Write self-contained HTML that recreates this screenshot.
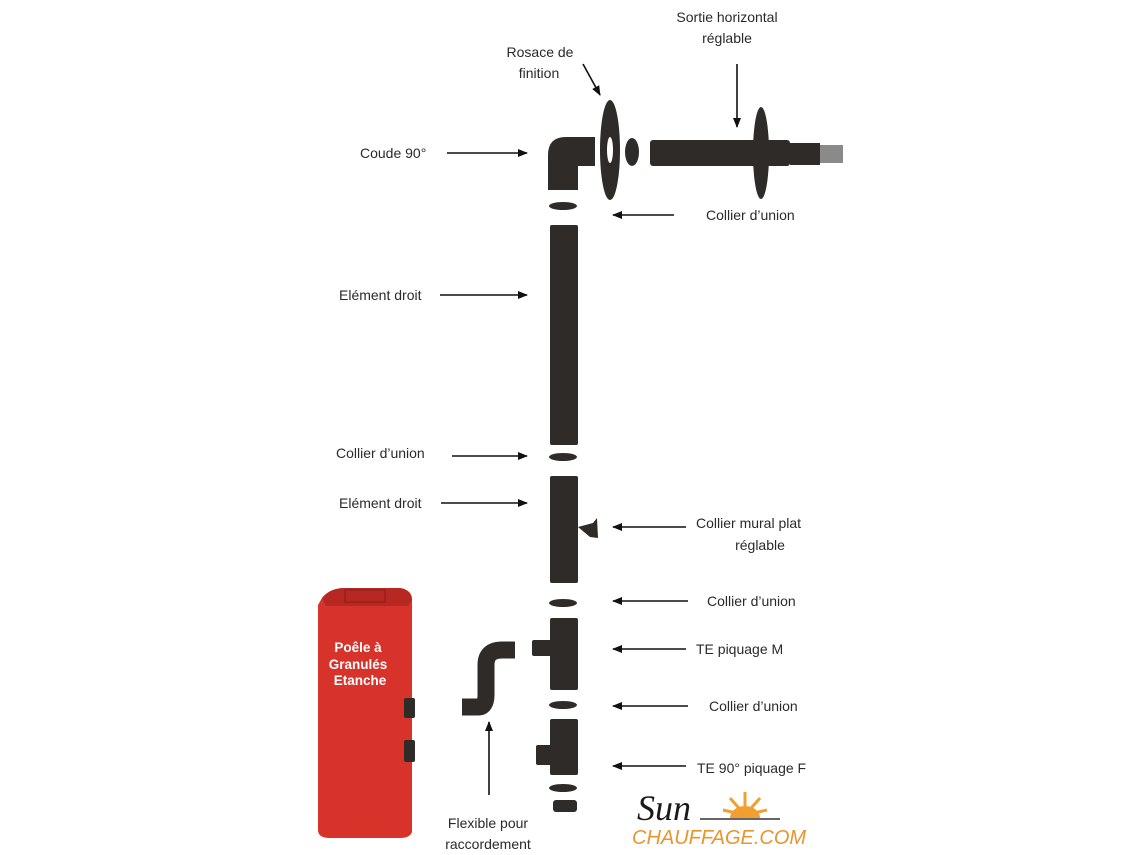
<!DOCTYPE html>
<html><head><meta charset="utf-8"><style>
html,body{margin:0;padding:0;background:#fff}
svg{display:block}
text{font-family:"Liberation Sans",sans-serif;font-size:14px;fill:#2a2a2a}
</style></head><body>
<svg width="1140" height="855" viewBox="0 0 1140 855" xmlns="http://www.w3.org/2000/svg">
<defs>
<marker id="ah" markerWidth="10" markerHeight="8" refX="9" refY="4" orient="auto" markerUnits="userSpaceOnUse">
<path d="M0,0 L10,4 L0,8 Z" fill="#111"/></marker>
</defs>
<!-- stove -->
<path d="M322,598 Q330,588 345,588 L400,588 Q412,590 412,600 L412,832 Q410,838 400,838 L330,838 Q318,838 318,830 L318,605 Z" fill="#d8332b"/>
<path d="M322,598 Q330,588 345,588 L400,588 Q412,590 412,600 L408,606 L326,606 Z" fill="#b82823"/>
<rect x="345" y="590" width="40" height="12" fill="none" stroke="#a0221e" stroke-width="2"/>
<text x="358" y="652" text-anchor="middle" style="fill:#fff;font-weight:bold;font-size:13.5px">Poêle à</text>
<text x="358" y="669" text-anchor="middle" style="fill:#fff;font-weight:bold;font-size:13.5px">Granulés</text>
<text x="360" y="685" text-anchor="middle" style="fill:#fff;font-weight:bold;font-size:13.5px">Etanche</text>
<g fill="#2f2b29">
<!-- elbow -->
<path d="M548,190 L548,155 Q548,137 566,137 L595,137 L595,166 L578,166 L578,190 Z"/>
<!-- rosace -->
<ellipse cx="610" cy="150" rx="10" ry="50"/>
<ellipse cx="610" cy="150" rx="3" ry="13" fill="#fff"/>
<ellipse cx="632" cy="152" rx="7" ry="14"/>
<!-- horizontal tube -->
<rect x="650" y="140" width="140" height="26" rx="3"/>
<ellipse cx="761" cy="153" rx="8" ry="46"/>
<rect x="790" y="143" width="30" height="22"/>
<rect x="820" y="145" width="23" height="18" fill="#8a8a8a"/>
<!-- colliers -->
<ellipse cx="563" cy="206" rx="14" ry="4"/>
<rect x="550" y="225" width="28" height="220" rx="2"/>
<ellipse cx="563" cy="457" rx="14" ry="4"/>
<rect x="550" y="476" width="28" height="107" rx="2"/>
<path d="M578,527 L593,523 L597,518 L598,538 L590,537 Z"/>
<ellipse cx="563" cy="603" rx="14" ry="4"/>
<rect x="550" y="618" width="28" height="72" rx="2"/>
<rect x="532" y="640" width="20" height="16" rx="2"/>
<ellipse cx="563" cy="705" rx="14" ry="4"/>
<rect x="550" y="719" width="28" height="56" rx="2"/>
<rect x="536" y="745" width="16" height="20" rx="2"/>
<ellipse cx="563" cy="788" rx="14" ry="4"/>
<rect x="553" y="800" width="24" height="12" rx="3"/>
<!-- stove knobs -->
<rect x="404" y="698" width="11" height="20" rx="2"/>
<rect x="404" y="740" width="11" height="22" rx="2"/>
</g>
<!-- flexible -->
<path d="M462,707 L478,707 Q486,707 486,695 L486,665 Q486,650 502,650 L515,650" fill="none" stroke="#2f2b29" stroke-width="17"/>
<!-- arrows -->
<g stroke="#111" stroke-width="1.6" marker-end="url(#ah)">
<line x1="447" y1="153" x2="527" y2="153"/>
<line x1="440" y1="295" x2="527" y2="295"/>
<line x1="452" y1="456" x2="527" y2="456"/>
<line x1="441" y1="503" x2="527" y2="503"/>
<line x1="674" y1="215" x2="613" y2="215"/>
<line x1="686" y1="527" x2="613" y2="527"/>
<line x1="688" y1="601" x2="613" y2="601"/>
<line x1="686" y1="649" x2="613" y2="649"/>
<line x1="688" y1="706" x2="613" y2="706"/>
<line x1="686" y1="766" x2="613" y2="766"/>
<line x1="583" y1="64" x2="600" y2="95"/>
<line x1="737" y1="64" x2="737" y2="127"/>
<line x1="489" y1="795" x2="489" y2="722"/>
</g>
<!-- labels -->
<text x="360" y="158">Coude 90°</text>
<text x="339" y="300">Elément droit</text>
<text x="336" y="458">Collier d’union</text>
<text x="339" y="508">Elément droit</text>
<text x="706" y="220">Collier d’union</text>
<text x="696" y="528">Collier mural plat</text>
<text x="760" y="550" text-anchor="middle">réglable</text>
<text x="707" y="606">Collier d’union</text>
<text x="696" y="654">TE piquage M</text>
<text x="709" y="711">Collier d’union</text>
<text x="697" y="773">TE 90° piquage F</text>
<text x="540" y="57" text-anchor="middle">Rosace de</text>
<text x="539" y="78" text-anchor="middle">finition</text>
<text x="727" y="22" text-anchor="middle">Sortie horizontal</text>
<text x="727" y="43" text-anchor="middle">réglable</text>
<text x="488" y="828" text-anchor="middle">Flexible pour</text>
<text x="488" y="849" text-anchor="middle">raccordement</text>
<!-- logo -->
<text x="637" y="820" style="font-size:36px;font-style:italic;fill:#1a1a1a;font-family:'Liberation Serif',serif">Sun</text>
<g stroke="#f0a030" stroke-width="3">
<line x1="745" y1="815" x2="745" y2="792"/><line x1="745" y1="815" x2="730" y2="798"/><line x1="745" y1="815" x2="760" y2="798"/>
<line x1="745" y1="815" x2="723" y2="810"/><line x1="745" y1="815" x2="767" y2="810"/>
</g>
<path d="M730,818 A15,12 0 0 1 760,818 Z" fill="#f0a030"/>
<line x1="700" y1="819" x2="780" y2="819" stroke="#333" stroke-width="1.5"/>
<text x="632" y="844" style="font-size:20px;font-style:italic;fill:#e8952e">CHAUFFAGE.COM</text>
</svg>
</body></html>
